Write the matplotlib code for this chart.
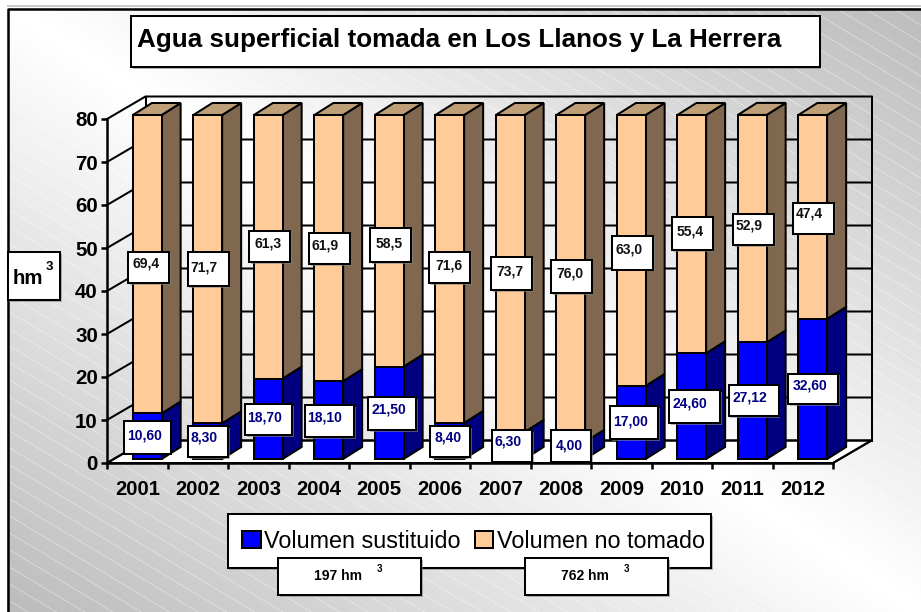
import numpy as np
import matplotlib
matplotlib.use("Agg")
import matplotlib.pyplot as plt
from matplotlib.patches import Rectangle
from matplotlib.transforms import Affine2D

plt.rcParams['font.family'] = ['Liberation Sans', 'DejaVu Sans']

# ---- data ----
years = ['2001', '2002', '2003', '2004', '2005', '2006', '2007', '2008', '2009', '2010', '2011', '2012']
sustituido = [10.60, 8.30, 18.70, 18.10, 21.50, 8.40, 6.30, 4.00, 17.00, 24.60, 27.12, 32.60]
no_tomado = [69.4, 71.7, 61.3, 61.9, 58.5, 71.6, 73.7, 76.0, 63.0, 55.4, 52.9, 47.4]
y_ticks = [0, 10, 20, 30, 40, 50, 60, 70, 80]
title = 'Agua superficial tomada en Los Llanos y La Herrera'
series_names = ['Volumen sustituido', 'Volumen no tomado']
totals = ['197 hm', '762 hm']

# ---- layout: label boxes (x0, x1, y0, y1) and text anchors, picture pixels ----
upper_boxes = [(128, 169, 252, 283), (187.5, 228.5, 252, 286), (249, 290, 231, 262), (308.5, 349.5, 233, 264),
               (370, 411, 228, 262), (429, 470, 252, 283), (491, 532, 257, 290), (551, 591.5, 259.5, 293),
               (612, 653, 235.5, 269.5), (671.5, 712.5, 216.5, 250), (733, 774, 214, 245), (793, 834, 202.5, 233.5)]
upper_text = [(146.5, 264), (203.5, 267), (268, 243), (325, 245), (389.5, 243), (448.5, 265),
              (509.5, 271), (569.5, 274), (629, 249), (690.5, 232), (749.5, 226), (809.5, 214)]
lower_boxes = [(123.5, 170.5, 421, 453.5), (188, 228, 426, 457), (245, 292, 404, 435), (304.5, 354, 405, 437),
               (368, 416, 397, 430), (430, 470, 426, 457), (491.5, 532, 430, 462), (551, 591, 430, 462),
               (610, 658, 406, 439), (669, 720, 390, 423), (728.5, 778.5, 385, 416), (788, 838, 373.5, 404)]
lower_text = [(144.5, 436), (204, 438), (265, 417), (324.5, 418), (388.5, 409), (448.5, 437),
              (508, 442), (569.5, 445), (630.5, 422), (690, 404), (749.5, 397), (810.5, 385)]

W, H = 921, 612
fig = plt.figure(figsize=(W / 100, H / 100), dpi=100, facecolor='white')
px = Affine2D().scale(1, -1).translate(0, H)  # picture pixels to display

# ---- background: saddle grey gradient with thin diagonal stripes ----
bg = fig.add_axes([0, 0, 1, 1], zorder=0)
yy, xx = np.mgrid[0:H, 0:W]
u = np.abs(xx / W - yy / H)
grey = 1 - 0.27 * u
d = np.mod(yy - 0.6 * xx, 17.0)
d = np.minimum(d, 17.0 - d) * 0.857
grey = grey + 0.10 * u * np.clip(1 - d / 0.9, 0, 1)
grey = np.clip(grey, 0, 1)
grey[:8, :] = 1
grey[:, :7] = 1
grey[5:7, 7:] = 0.8
bg.imshow(grey, cmap='gray', vmin=0, vmax=1, aspect='auto', extent=(0, W, H, 0), interpolation='nearest')
bg.plot([7.5, 7.5, W], [H, 8.5, 8.5], color='black', lw=1.8)
bg.set_xlim(0, W)
bg.set_ylim(H, 0)
bg.axis('off')

# ---- main axes: front plane of the 3D box ----
ax = fig.add_axes([107 / W, (H - 463) / H, 726 / W, 344 / H], zorder=1)
ax.set_xlim(-0.5, 11.5)
ax.set_ylim(0, 80)
ax.patch.set_alpha(0)
for s in ('top', 'right'):
    ax.spines[s].set_visible(False)
for s in ('left', 'bottom'):
    ax.spines[s].set_linewidth(1.8)
    ax.spines[s].set_zorder(6)

xu = 726 / 12   # px per category
yu = 344 / 80   # px per value unit
DX, DY = 38.5 / xu, 22.5 / yu       # box depth
OX, OY = 10 / xu, 4 / yu            # front face of bars inside the box
BX, BY = 19 / xu, 12 / yu           # bar depth
BW = 28.8 / xu                      # bar width
LW = 1.45

x = np.arange(len(years))
x0 = -0.5
x1 = len(years) - 0.5

# floor and back wall
ax.fill([x0, x1, x1 + DX, x0 + DX], [0, 0, DY, DY], color='white', ec='black', lw=LW, zorder=1, clip_on=False)
for v in y_ticks:
    ax.plot([x0, x0 + DX, x1 + DX], [v, v + DY, v + DY], color='black', lw=LW, zorder=1.5,
            clip_on=False, solid_joinstyle='miter')
ax.plot([x0 + DX, x0 + DX], [DY, 80 + DY], color='black', lw=LW, zorder=1.5, clip_on=False)
ax.plot([x1 + DX, x1 + DX], [DY, 80 + DY], color='black', lw=LW, zorder=1.5, clip_on=False)
ax.plot([x1, x1 + DX], [0, DY], color='black', lw=LW, zorder=1.5, clip_on=False)

# stacked 3D bars
low = np.array(sustituido)
upp = np.array(no_tomado)
xc = x + OX
b1 = ax.bar(xc, low, width=BW, bottom=OY, color='#0000FF', edgecolor='black', linewidth=LW, zorder=3,
            clip_on=False, label=series_names[0])
b2 = ax.bar(xc, upp, width=BW, bottom=OY + low, color='#FFCC99', edgecolor='black', linewidth=LW, zorder=3,
            clip_on=False, label=series_names[1])
for xi, l, u_ in zip(xc, low, upp):
    r = xi + BW / 2
    lf = xi - BW / 2
    ax.fill([r, r + BX, r + BX, r], [OY, OY + BY, OY + BY + l, OY + l], fc='#000080', ec='black', lw=LW,
            zorder=2.8, clip_on=False)
    ax.fill([r, r + BX, r + BX, r], [OY + l, OY + BY + l, OY + BY + l + u_, OY + l + u_], fc='#806850', ec='black',
            lw=LW, zorder=2.9, clip_on=False)
    top = OY + l + u_
    ax.fill([lf, r, r + BX, lf + BX], [top, top, top + BY, top + BY], fc='#BF9F78', ec='black', lw=LW,
            zorder=2.9, clip_on=False)

# ticks
ax.set_yticks(y_ticks)
ax.set_xticks(np.arange(len(years) + 1) - 0.5)
ax.set_xticklabels([])
ax.set_xticks(x, years, minor=True)
ax.tick_params(axis='x', which='major', length=4, width=1.8, direction='out')
ax.tick_params(axis='x', which='minor', length=0, pad=12.5, labelsize=14.6)
ax.tick_params(axis='y', length=4, width=1.8, pad=2.5, labelsize=14.8)
for t in ax.get_yticklabels() + ax.get_xticklabels(minor=True):
    t.set_fontweight('bold')
for t in ax.get_yticklabels():
    t.set_verticalalignment('center_baseline')


def box(x0_, x1_, y0_, y1_, z=5):
    ax.add_patch(Rectangle((x0_ + 1.5, y0_ + 1.5), x1_ - x0_, y1_ - y0_, transform=px, fc='#888888', ec='none',
                           alpha=0.6, zorder=z, clip_on=False))
    ax.add_patch(Rectangle((x0_, y0_), x1_ - x0_, y1_ - y0_, transform=px, fc='white', ec='black', lw=LW,
                           zorder=z, clip_on=False))


def label(xp, yp, s, z=7, **kw):
    ax.text(xp, yp, s, transform=px, zorder=z, clip_on=False, ha=kw.pop('ha', 'center'),
            va=kw.pop('va', 'center'), **kw)


# data labels
for v, bx, tx in zip(no_tomado, upper_boxes, upper_text):
    box(*bx)
    label(*tx, f'{v:.1f}'.replace('.', ','), fontsize=10, fontweight='bold', color='#111111')
for v, bx, tx in zip(sustituido, lower_boxes, lower_text):
    box(*bx)
    label(*tx, f'{v:.2f}'.replace('.', ','), fontsize=10, fontweight='bold', color='#000080')

# title
box(131, 819.5, 16, 67)
label(137, 40, title, ha='left', fontsize=18.75, fontweight='bold', color='black')

# unit box
box(7.5, 60, 252, 300)
label(12.5, 278, 'hm', ha='left', fontsize=14.8, fontweight='bold')
label(49, 267, '3', fontsize=9.5, fontweight='bold')

# legend
box(227.5, 711, 514, 568, z=4.5)
ax.legend(handles=[b1, b2], labels=series_names, loc='center left',
          bbox_to_anchor=(242, 541), bbox_transform=px, frameon=False, fontsize=16.8,
          ncol=2, borderpad=0, borderaxespad=0, handlelength=0.8, handleheight=0.75,
          handletextpad=0.15, columnspacing=0.6).set_zorder(4.8)

# totals below the legend
box(278, 421, 558, 595)
box(525, 668, 558, 595)
label(314, 576, totals[0], ha='left', fontsize=10, fontweight='bold')
label(379, 569, '3', fontsize=7, fontweight='bold')
label(561, 576, totals[1], ha='left', fontsize=10, fontweight='bold')
label(626, 569, '3', fontsize=7, fontweight='bold')

fig.savefig('out.png', dpi=100, facecolor='white')
